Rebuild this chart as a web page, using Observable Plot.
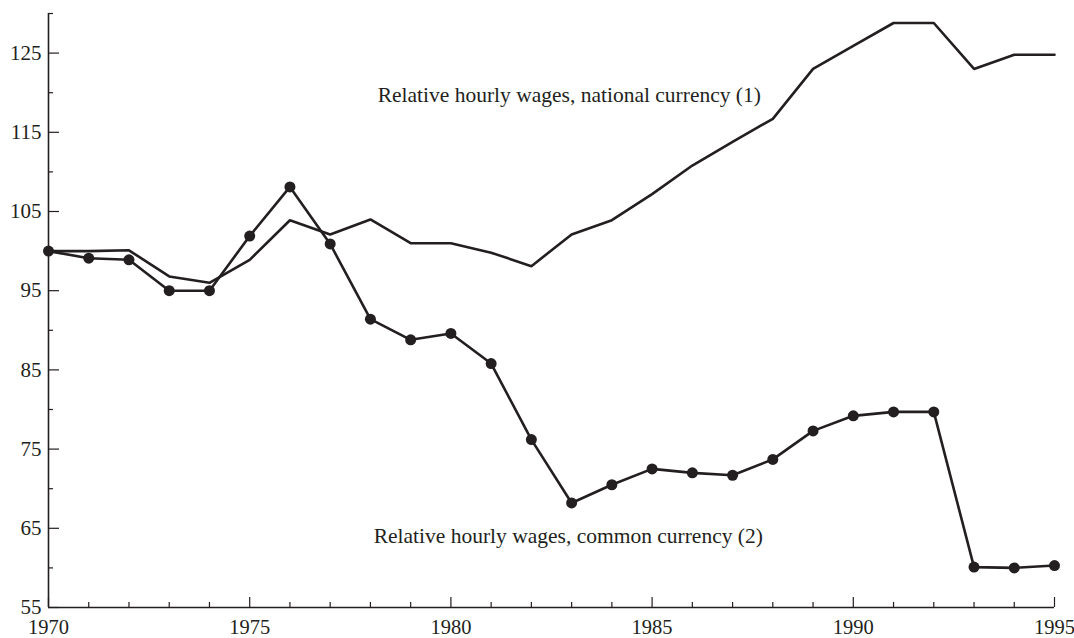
<!DOCTYPE html>
<html>
<head>
<meta charset="utf-8">
<script src="https://cdn.jsdelivr.net/npm/d3@7"></script>
<script src="https://cdn.jsdelivr.net/npm/@observablehq/plot@0.6"></script>
<style>
  html, body { margin: 0; padding: 0; background: #fff; }
  #chart svg { display: block; }
</style>
</head>
<body>
<div id="chart"></div>
<script>
const years = d3.range(1970, 1996);
const nationalCurrency = [100.0, 100.0, 100.1, 96.8, 96.0, 98.9, 103.9, 102.1, 104.0, 101.0, 101.0, 99.8, 98.1, 102.1, 103.9, 107.2, 110.8, 113.8, 116.7, 123.0, 125.9, 128.8, 128.8, 123.0, 124.8, 124.8];
const commonCurrency = [100.0, 99.1, 98.9, 95.0, 95.0, 101.9, 108.1, 100.9, 91.4, 88.8, 89.6, 85.8, 76.2, 68.2, 70.5, 72.5, 72.0, 71.7, 73.7, 77.3, 79.2, 79.7, 79.7, 60.1, 60.0, 60.3];
const yMajorTicks = [55, 65, 75, 85, 95, 105, 115, 125];
const yMinorTicks = [60, 70, 80, 90, 100, 110, 120, 130];
const xMajorTicks = [1970, 1975, 1980, 1985, 1990, 1995];
const xMinorTicks = years.filter(y => y % 5 !== 0);
const seriesLabels = ["Relative hourly wages, national currency (1)", "Relative hourly wages, common currency (2)"];

const national = years.map((year, i) => ({year, value: nationalCurrency[i]}));
const common = years.map((year, i) => ({year, value: commonCurrency[i]}));

const ink = "#231f20";
const font = "'Liberation Serif', 'DejaVu Serif', serif";
const W = 1074, H = 638;
const mL = 48, mR = 20, mT = 13, mB = 31;
const plotW = W - mL - mR, plotH = H - mT - mB;

const chart = Plot.plot({
  width: W,
  height: H,
  marginLeft: mL,
  marginRight: mR,
  marginTop: mT,
  marginBottom: mB,
  style: {fontFamily: font, fontSize: "21px", color: ink, background: "#fff"},
  x: {domain: [1970, 1995]},
  y: {domain: [55, 130]},
  marks: [
    // axis lines
    Plot.ruleX([1970], {stroke: ink, strokeWidth: 1.6}),
    Plot.ruleY([55], {stroke: ink, strokeWidth: 1.6}),
    // inward ticks
    Plot.ruleY(yMajorTicks, {stroke: ink, strokeWidth: 1.2, insetRight: plotW - 11}),
    Plot.ruleY(yMinorTicks, {stroke: ink, strokeWidth: 1.2, insetRight: plotW - 5}),
    Plot.ruleX(xMajorTicks, {stroke: ink, strokeWidth: 1.2, insetTop: plotH - 10}),
    Plot.ruleX(xMinorTicks, {stroke: ink, strokeWidth: 1.2, insetTop: plotH - 5}),
    // tick labels
    Plot.axisY({ticks: yMajorTicks, tickSize: 0, tickPadding: 7, tickFormat: d => String(d), label: null, fontSize: 21, fill: ink}),
    Plot.axisX({ticks: xMajorTicks, tickSize: 0, tickPadding: 12, tickFormat: d => String(d), label: null, fontSize: 20.5, fill: ink}),
    // series
    Plot.line(national, {x: "year", y: "value", stroke: ink, strokeWidth: 2.6, strokeLinejoin: "miter"}),
    Plot.line(common, {x: "year", y: "value", stroke: ink, strokeWidth: 2.6, strokeLinejoin: "miter"}),
    Plot.dot(common, {x: "year", y: "value", r: 5.5, fill: ink, stroke: "none"}),
    // series labels
    Plot.text([seriesLabels[0]], {x: 1978.18, y: 119.65, text: d => d, textAnchor: "start", fontSize: 21.5, fill: ink}),
    Plot.text([seriesLabels[1]], {x: 1978.08, y: 64.0, text: d => d, textAnchor: "start", fontSize: 21.5, fill: ink})
  ]
});
document.getElementById("chart").appendChild(chart);
</script>
</body>
</html>
